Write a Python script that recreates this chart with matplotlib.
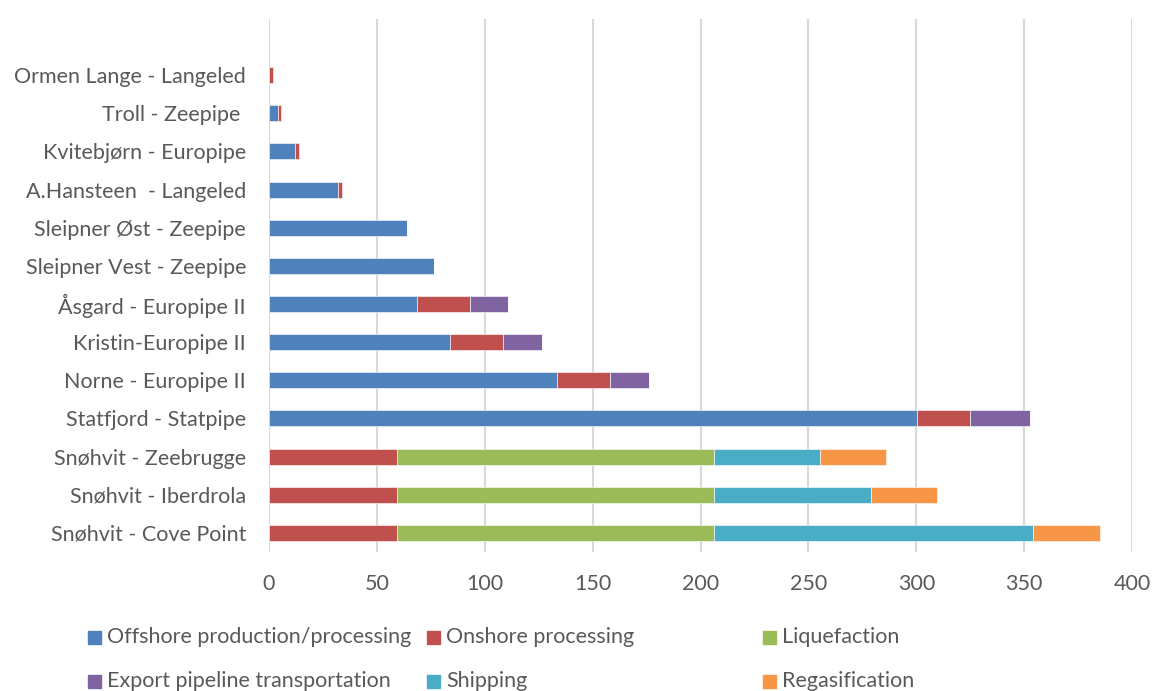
import numpy as np
import matplotlib
matplotlib.use("Agg")
import matplotlib.pyplot as plt
from matplotlib.patches import Rectangle

plt.rcParams['font.family'] = ['Lato', 'DejaVu Sans']

# categories listed bottom -> top
chains = ["Snøhvit - Cove Point", "Snøhvit - Iberdrola", "Snøhvit - Zeebrugge",
          "Statfjord - Statpipe", "Norne - Europipe II", "Kristin-Europipe II",
          "Åsgard - Europipe II", "Sleipner Vest - Zeepipe", "Sleipner Øst - Zeepipe",
          "A.Hansteen  - Langeled", "Kvitebjørn - Europipe", "Troll - Zeepipe ",
          "Ormen Lange - Langeled"]

offshore = [0, 0, 0, 300.3, 133.5, 84, 68.7, 76.5, 64, 32, 12, 4, 0]
onshore = [59.1, 59.1, 59.1, 24.5, 24.5, 24.6, 24.5, 0, 0, 1.7, 1.8, 1.5, 2]
liquefaction = [147.1, 147.1, 147.1, 0, 0, 0, 0, 0, 0, 0, 0, 0, 0]
export = [0, 0, 0, 27.7, 18, 17.9, 17.8, 0, 0, 0.5, 0.5, 0.5, 0.3]
shipping = [148.1, 72.6, 49.3, 0, 0, 0, 0, 0, 0, 0, 0, 0, 0]
regas = [30.9, 30.6, 30.7, 0, 0, 0, 0, 0, 0, 0, 0, 0, 0]

series = [
    ("Offshore production/processing", offshore, "#4F81BD"),
    ("Onshore processing", onshore, "#C0504D"),
    ("Liquefaction", liquefaction, "#9BBB59"),
    ("Export pipeline transportation", export, "#8064A2"),
    ("Shipping", shipping, "#4BACC6"),
    ("Regasification", regas, "#F79646"),
]

txt = "#595959"
fs = 15.5
fig = plt.figure(figsize=(11.53, 6.91), dpi=100)
ax = fig.add_axes([269 / 1153, 1 - 552 / 691, (1132 - 269) / 1153, 533 / 691])

y = np.arange(len(chains))
left = np.zeros(len(chains))
for name, vals, col in series:
    vals = np.array(vals, dtype=float)
    ax.barh(y, vals, left=left, height=0.42, color=col, edgecolor="white",
            linewidth=0.4, zorder=3)
    left += vals

ax.set_xlim(0, 400)
ax.set_ylim(-0.5, 13.47)
ax.set_xticks(np.arange(0, 401, 50))
ax.set_yticks(y)
ax.set_yticklabels(chains)
ax.grid(axis="x", color="#D9D9D9", linewidth=1.5, zorder=0)
ax.axvline(0, color="#D9D9D9", linewidth=1.5, zorder=1)
for s in ax.spines.values():
    s.set_visible(False)
ax.tick_params(axis="both", length=0, labelsize=fs, colors=txt)
ax.tick_params(axis="x", pad=16)
ax.tick_params(axis="y", pad=16.5)

# legend, laid out like the original (2 rows x 3 columns)
col_x = [88, 427, 763]
row_y = [637, 681]
for k, (name, vals, col) in enumerate(series):
    r, c = divmod(k, 3)
    x0 = col_x[c] / 1153
    yc = 1 - row_y[r] / 691
    fig.patches.append(Rectangle((x0, yc - 6.5 / 691), 13 / 1153, 13 / 691,
                                 transform=fig.transFigure, color=col))
    fig.text(x0 + 19 / 1153, yc, name, fontsize=fs, color=txt, va="center")

fig.savefig("out.png", dpi=100)
